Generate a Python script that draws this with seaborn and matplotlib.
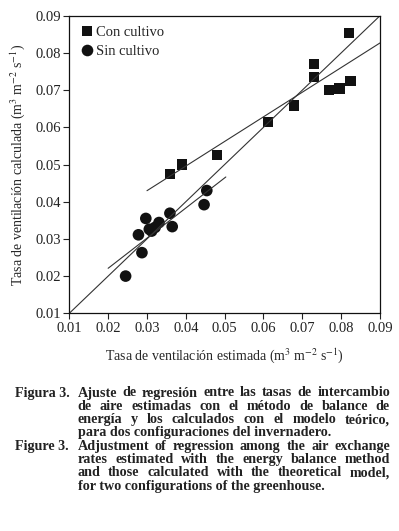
import numpy as np
import pandas as pd
import seaborn as sns
import matplotlib
matplotlib.use('Agg')
import matplotlib.pyplot as plt

sns.set_style('ticks')
plt.rcParams['font.family'] = ['Liberation Serif', 'DejaVu Serif']
plt.rcParams['mathtext.fontset'] = 'stix'

# datos
con_x = [0.0359, 0.0391, 0.0481, 0.0611, 0.0678, 0.0730, 0.0730, 0.0769, 0.0796, 0.0824, 0.0820]
con_y = [0.0474, 0.0500, 0.0526, 0.0614, 0.0659, 0.0771, 0.0735, 0.0701, 0.0704, 0.0725, 0.0854]
sin_x = [0.0454, 0.0447, 0.0359, 0.0365, 0.0297, 0.0331, 0.0321, 0.0312, 0.0306, 0.0278, 0.0287, 0.0245]
sin_y = [0.0430, 0.0392, 0.0369, 0.0333, 0.0355, 0.0344, 0.0331, 0.0321, 0.0326, 0.0311, 0.0263, 0.0200]

# rectas de regresión (pendiente, ordenada) y su rango
con_fit = [0.662, 0.0231]
con_range = [0.030, 0.090]
sin_fit = [0.81, 0.0059]
sin_range = [0.020, 0.0503]
ref_range = [0.01, 0.09]  # recta 1:1

ticks = [0.01, 0.02, 0.03, 0.04, 0.05, 0.06, 0.07, 0.08, 0.09]

df = pd.DataFrame({
    'x': con_x + sin_x,
    'y': con_y + sin_y,
    'grupo': ['Con cultivo'] * len(con_x) + ['Sin cultivo'] * len(sin_x),
})

fig = plt.figure(figsize=(3.99, 5.31), dpi=100)
ax = fig.add_axes([0.1737, 0.41, 0.7787, 0.5604])

sns.scatterplot(data=df, x='x', y='y', style='grupo', size='grupo',
                markers={'Con cultivo': 's', 'Sin cultivo': 'o'},
                sizes={'Con cultivo': 55, 'Sin cultivo': 70},
                color='#111111', linewidth=0, ax=ax)

xr = np.array(ref_range)
ax.plot(xr, xr, color='#333333', lw=0.8)
xc = np.array(con_range)
ax.plot(xc, np.polyval(con_fit, xc), color='#333333', lw=0.8)
xs = np.array(sin_range)
ax.plot(xs, np.polyval(sin_fit, xs), color='#333333', lw=0.8)

ax.set_xlim(0.01, 0.09)
ax.set_ylim(0.01, 0.09)
ax.set_xticks(ticks)
ax.set_yticks(ticks)
ax.set_xticklabels([f'{t:.2f}' for t in ticks])
ax.set_yticklabels([f'{t:.2f}' for t in ticks])
ax.tick_params(direction='out', length=4, width=0.8, labelsize=10.5, colors='#222222', pad=2)
for sp in ax.spines.values():
    sp.set_visible(True)
    sp.set_linewidth(0.9)
    sp.set_color('#111111')

ax.set_xlabel(r'Tasa de ventilación estimada (m$^3$ m$^{-2}$ s$^{-1}$)', fontsize=10, labelpad=8)
ax.set_ylabel(r'Tasa de ventilación calculada (m$^3$ m$^{-2}$ s$^{-1}$)', fontsize=10, labelpad=6)

ax.legend(loc='upper left', frameon=False, fontsize=10.5, handletextpad=0.1,
          borderaxespad=0.3, labelspacing=0.4, handlelength=1.0)

# pie de figura, texto justificado
caption = [
    ('Figura 3.', ['Ajuste de regresión entre las tasas de intercambio',
                   'de aire estimadas con el método de balance de',
                   'energía y los calculados con el modelo teórico,',
                   'para dos configuraciones del invernadero.']),
    ('Figure 3.', ['Adjustment of regression among the air exchange',
                   'rates estimated with the energy balance method',
                   'and those calculated with the theoretical model,',
                   'for two configurations of the greenhouse.']),
]
W, H = 399, 531
x0, x1 = 77.5, 390
y = 393
fig.canvas.draw()
renderer = fig.canvas.get_renderer()
fkw = dict(fontsize=10.2, fontweight='bold', color='#222222', va='center')
for head, lines in caption:
    fig.text(15 / W, 1 - y / H, head, ha='left', **fkw)
    for i, line in enumerate(lines):
        words = line.split()
        if i == len(lines) - 1:
            fig.text(x0 / W, 1 - y / H, line, ha='left', **fkw)
        else:
            objs = [fig.text(0, 1 - y / H, w, ha='left', **fkw) for w in words]
            widths = [o.get_window_extent(renderer).width for o in objs]
            gap = (x1 - x0 - sum(widths)) / (len(words) - 1)
            xp = x0
            for o, wd in zip(objs, widths):
                o.set_x(xp / W)
                xp += wd + gap
        y += 13.3

fig.savefig('out.png', dpi=100)
